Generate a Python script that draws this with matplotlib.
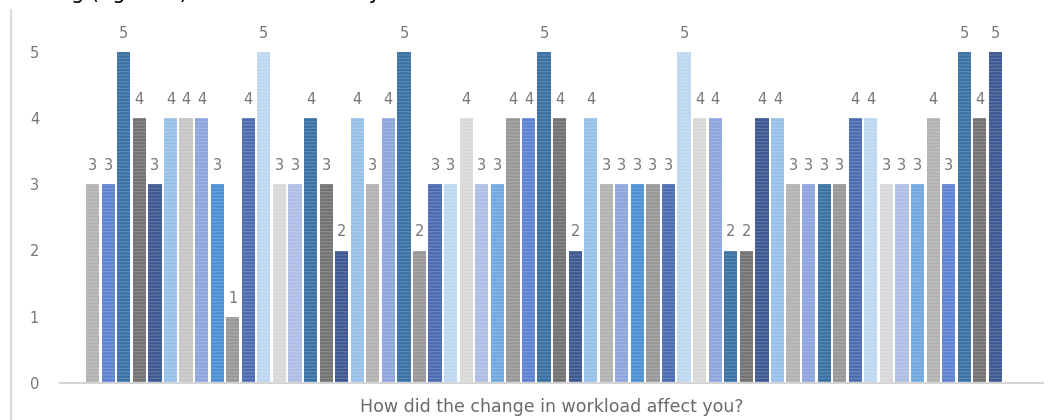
import numpy as np
import matplotlib
matplotlib.use("Agg")
import matplotlib.pyplot as plt
from matplotlib.colors import to_rgb

plt.rcParams['font.family'] = ['DejaVu Sans']
plt.rcParams['hatch.linewidth'] = 0.8

# answers per respondent
scores = [3, 3, 5, 4, 3, 4, 4, 4, 3, 1, 4, 5, 3, 3, 4, 3, 2, 4, 3, 4,
          5, 2, 3, 3, 4, 3, 3, 4, 4, 5, 4, 2, 4, 3, 3, 3, 3, 3, 5, 4,
          4, 2, 2, 4, 4, 3, 3, 3, 3, 4, 4, 3, 3, 3, 4, 3, 5, 4, 5]
question = "How did the change in workload affect you?"
y_ticks = [0, 1, 2, 3, 4, 5]

# monochrome palette, one colour per respondent
LG, LG2, VLG, G, DG = '#b2b2b2', '#c6c6c6', '#d8d8d8', '#979797', '#727272'
CB, PW, LPW = '#5c82d2', '#8da4dc', '#aebde6'
SB, MB, LB2 = '#3a70a2', '#4a90d2', '#6ea8de'
NV, RB = '#3d5791', '#4b6bb0'
LB, VLB = '#97c0e8', '#bdd7f0'
bar_colors = [LG, CB, SB, DG, NV, LB, LG2, PW, MB, G, RB, VLB,
              VLG, LPW, SB, DG, NV, LB, LG, PW, SB, G, RB, VLB,
              VLG, LPW, LB2, G, CB, SB, DG, NV, LB, LG, PW, MB,
              G, RB, VLB, VLG, PW, SB, DG, NV, LB, LG, PW, SB,
              G, RB, VLB, VLG, LPW, LB2, LG, CB, SB, DG, NV]

text_grey = '#767676'

fig = plt.figure(figsize=(10.58, 4.2), dpi=100)
ax = fig.add_axes([60 / 1058, 37 / 420, 983 / 1058, 371 / 420])

x = np.arange(len(scores))
bars = ax.bar(x, scores, width=0.85, color=bar_colors, linewidth=0)

# fine horizontal stripes inside each bar
for p, c in zip(bars, bar_colors):
    r, g, b = to_rgb(c)
    k = 0.2
    p.set_hatch('-----')
    p.set_edgecolor((r + (1 - r) * k, g + (1 - g) * k, b + (1 - b) * k))

ax.bar_label(bars, labels=[str(v) for v in scores], padding=8,
             fontsize=10.5, color=text_grey)

ax.set_xlim(-2.1, 61.06)
ax.set_ylim(0, 5.6)
ax.set_xticks([])
ax.set_yticks(y_ticks)
ax.set_yticklabels([str(t) for t in y_ticks], fontsize=10.5, color=text_grey)
ax.tick_params(axis='y', length=0, pad=15)

for s in ['top', 'right', 'left']:
    ax.spines[s].set_visible(False)
ax.spines['bottom'].set_color('#d4d4d4')
ax.spines['bottom'].set_linewidth(1.4)

ax.set_xlabel(question, fontsize=12.5, color='#6a6a6a', labelpad=11)

# chart frame edge on the left and the running text above it
fig.add_artist(plt.Line2D([11 / 1058, 11 / 1058], [0, 1 - 10 / 420],
                          color='#dcdcdc', linewidth=1.6))
fig.text(13 / 1058, 1 + 1 / 420,
         "Seeing (figure 6) we observed they were affected due to COVID-19",
         fontsize=15, color='black', va='baseline', ha='left')

fig.savefig("out.png", dpi=100)
